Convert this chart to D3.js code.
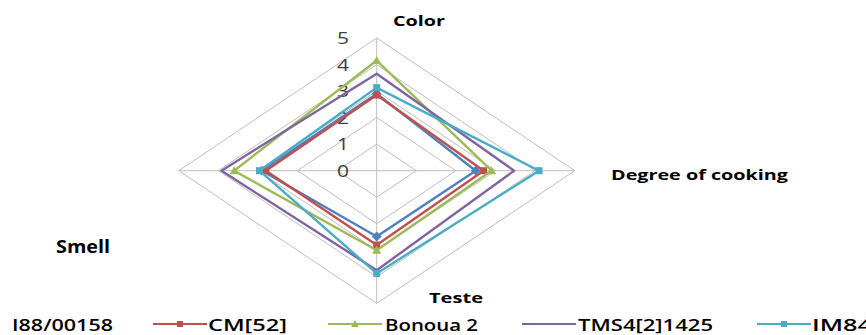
<!DOCTYPE html>
<html><head><meta charset="utf-8">
<script src="https://cdn.jsdelivr.net/npm/d3@7"></script>
<style>
html,body{margin:0;padding:0;background:#fff;}
svg{display:block;}
text{font-family:"Open Sans","Liberation Sans",sans-serif;}
</style></head>
<body><svg id="c" width="866" height="335"></svg>
<script>
const categories = ["Color", "Degree of cooking", "Teste", "Smell"];
const seriesNames = ["I88/00158", "CM[52]", "Bonoua 2", "TMS4[2]1425", "IM84"];
const i88 = [2.9, 2.5, 2.48, 2.9];
const cm52 = [2.85, 2.7, 2.8, 2.8];
const bonoua2 = [4.15, 2.9, 3.0, 3.6];
const tms4 = [3.65, 3.47, 3.75, 3.92];
const im84 = [3.13, 4.1, 3.87, 2.96];
const tickValues = [0, 1, 2, 3, 4, 5];

const seriesValues = [i88, cm52, bonoua2, tms4, im84];
const colors = ["#4F81BD", "#C0504D", "#9BBB59", "#8064A2", "#4BACC6"];
const markers = ["diamond", "square", "triangle", "none", "square"];

const svg = d3.select("#c");
const cx = 376.7, cy = 170.7;
const rX = d3.scaleLinear().domain([0, 5]).range([0, 198]);
const rY = d3.scaleLinear().domain([0, 5]).range([0, 132.7]);
const ang = d3.scalePoint().domain(categories).range([0, 270]);

function pt(cat, v) {
  const a = ang(cat) * Math.PI / 180;
  return [cx + Math.sin(a) * rX(v), cy - Math.cos(a) * rY(v)];
}

const ringLine = d3.line().curve(d3.curveLinearClosed);
svg.append("g").selectAll("path").data(tickValues.filter(t => t > 0)).join("path")
  .attr("d", t => ringLine(categories.map(c => pt(c, t))))
  .attr("fill", "none").attr("stroke", "#BEBEBE").attr("stroke-width", 1);
svg.append("g").selectAll("line").data(categories).join("line")
  .attr("x1", cx).attr("y1", cy)
  .attr("x2", c => pt(c, 5)[0]).attr("y2", c => pt(c, 5)[1])
  .attr("stroke", "#BEBEBE").attr("stroke-width", 1);

svg.append("g").selectAll("text").data(tickValues).join("text")
  .attr("x", 349).attr("y", t => cy - rY(t) + 6)
  .attr("text-anchor", "end")
  .attr("font-size", 17).attr("fill", "#404040")
  .attr("textLength", 12).attr("lengthAdjust", "spacingAndGlyphs")
  .text(t => t);

const catLabels = [
  {t: "Color", x: 393, y: 26, w: 52},
  {t: "Degree of cooking", x: 611, y: 180, w: 177},
  {t: "Teste", x: 429, y: 303, w: 54},
  {t: "Smell", x: 56, y: 253, w: 54, fs: 18}
];
svg.append("g").selectAll("text").data(catLabels).join("text")
  .attr("x", d => d.x).attr("y", d => d.y)
  .attr("font-size", d => d.fs || 14).attr("font-weight", "bold").attr("fill", "#000")
  .attr("textLength", d => d.w).attr("lengthAdjust", "spacingAndGlyphs")
  .text(d => d.t);

function drawMarker(g, type, x, y, col, s) {
  if (type === "square") {
    g.append("rect").attr("x", x - s/2).attr("y", y - s/2).attr("width", s).attr("height", s).attr("fill", col);
  } else if (type === "diamond") {
    g.append("path").attr("d", `M${x},${y - s*0.7}L${x + s*0.7},${y}L${x},${y + s*0.7}L${x - s*0.7},${y}Z`).attr("fill", col);
  } else if (type === "triangle") {
    g.append("path").attr("d", `M${x},${y - s*0.65}L${x + s*0.65},${y + s*0.5}L${x - s*0.65},${y + s*0.5}Z`).attr("fill", col);
  }
}

seriesValues.forEach((vals, i) => {
  const g = svg.append("g");
  const pts = categories.map((c, j) => pt(c, vals[j]));
  g.append("path").attr("d", ringLine(pts)).attr("fill", "none")
    .attr("stroke", colors[i]).attr("stroke-width", 2.4).attr("stroke-linejoin", "round");
  pts.forEach(p => drawMarker(g, markers[i], p[0], p[1], colors[i], 7));
});

const legTextX = [12, 208, 385, 578, 812];
const legLineX = [-70, 153, 328, 522, 757];
const legTextW = [101, 79, 93, 135, 60];
const legY = 324;
const leg = svg.append("g");
seriesNames.forEach((n, i) => {
  const x0 = legLineX[i];
  leg.append("line").attr("x1", x0).attr("x2", x0 + 54).attr("y1", legY).attr("y2", legY)
    .attr("stroke", colors[i]).attr("stroke-width", 2.2);
  drawMarker(leg, markers[i], x0 + 27, legY, colors[i], 6);
  leg.append("text").attr("x", legTextX[i]).attr("y", legY + 7)
    .attr("font-size", 16).attr("font-weight", 600).attr("fill", "#000")
    .attr("textLength", legTextW[i]).attr("lengthAdjust", "spacingAndGlyphs")
    .text(n);
});
</script></body></html>
